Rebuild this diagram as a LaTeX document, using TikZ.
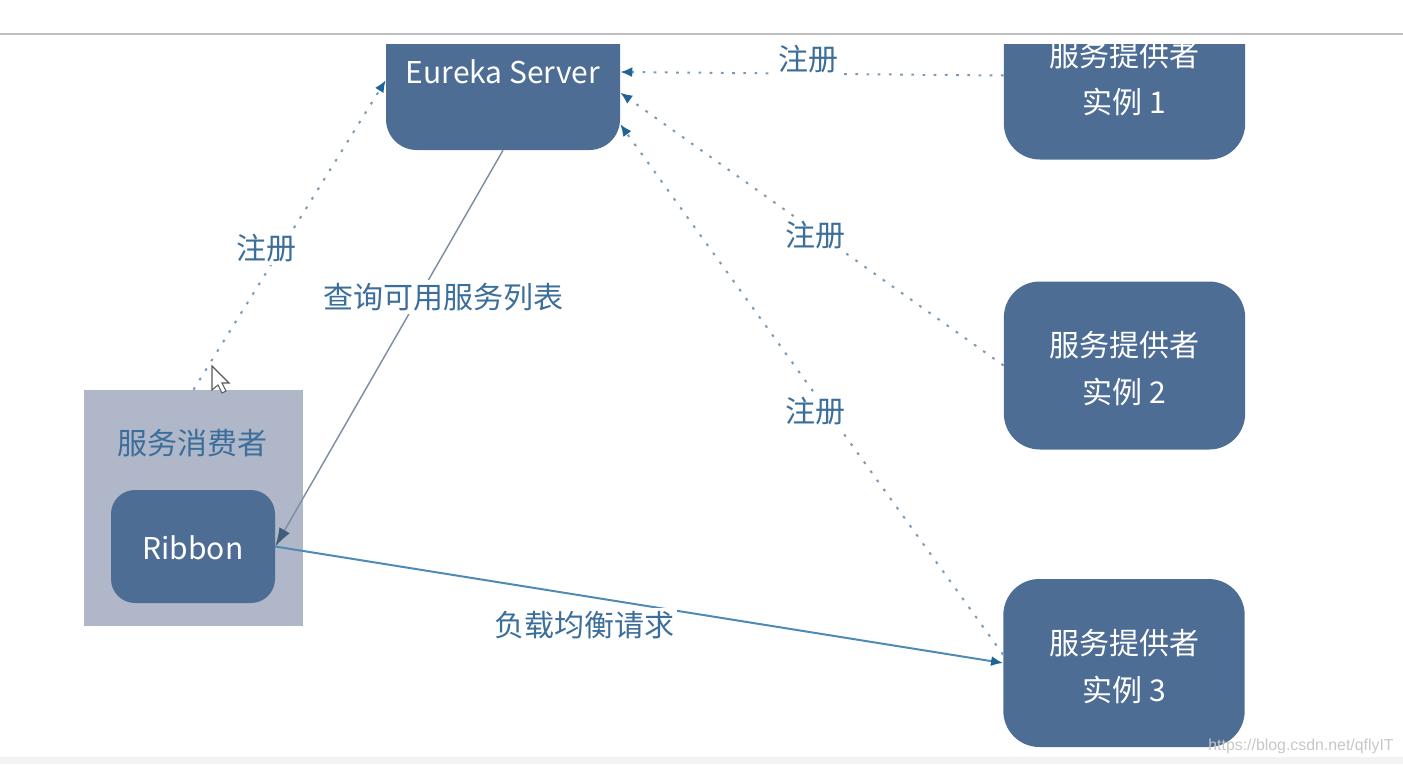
\documentclass[tikz,border=0pt]{standalone}
\usepackage{fontspec}
\setmainfont{Noto Sans CJK SC}
\usetikzlibrary{arrows.meta}
\definecolor{boxblue}{HTML}{4D6D94}
\definecolor{shellgray}{HTML}{B0B7C9}
\definecolor{labelblue}{HTML}{3B6E9A}
\definecolor{dotblue}{HTML}{7A9BB6}
\definecolor{tipblue}{HTML}{1F6397}
\definecolor{queryline}{HTML}{7E8FA3}
\definecolor{queryline2}{HTML}{3F5F78}
\definecolor{loadline}{HTML}{4F8AB5}
\newcommand{\lowstrut}{\rule{0pt}{24pt}}
\tikzset{
    bluebox/.style={fill=boxblue,text=white,inner sep=0pt,align=center,font=\fontsize{22.5}{35}\selectfont},
    providerbox/.style={bluebox,rounded corners=27pt,minimum width=181pt,minimum height=126pt},
    linelabel/.style={fill=white,inner sep=2pt,text=labelblue,font=\fontsize{22.5}{27}\selectfont},
    regline/.style={dotblue,line width=1.5pt,dash pattern={on 2pt off 6.4pt},-{Latex[length=9pt,width=7.5pt,color=tipblue]}}
}
\begin{document}
\begin{tikzpicture}[x=0.75pt,y=-0.75pt]
        \useasboundingbox (0,0) rectangle (1403,764);
        \draw (503,72) node (eureka) [bluebox,rounded corners=23pt,minimum width=175.5pt,minimum height=117pt] {Eureka Server};
        \draw (1124.5,75.5) node (provider1) [providerbox] {\lowstrut 服务提供者\\实例 1};
        \draw (1124.5,365.5) node (provider2) [providerbox] {\lowstrut 服务提供者\\实例 2};
        \draw (1124,663) node (provider3) [providerbox] {\lowstrut 服务提供者\\实例 3};
        \draw (193.5,508) node (consumer) [fill=shellgray,minimum width=164.25pt,minimum height=177pt] {};
        \draw (193,546.5) node (ribbon) [bluebox,rounded corners=18pt,minimum width=123pt,minimum height=84.75pt] {\rule{0pt}{20pt}Ribbon};
        \draw (192,443) node (consumername) [text=labelblue,font=\fontsize{22.5}{27}\selectfont] {服务消费者};
        \draw [regline] (consumer.north) -- (eureka.184);
        \draw [regline] (provider1.west) -- (eureka.east);
        \draw [regline] (provider2.west) -- (eureka.-10.6);
        \draw [regline] (provider3.176) -- (eureka.-24.4);
        \draw [queryline,line width=1.1pt,-{Latex[length=14pt,width=9pt,color=queryline2]}] (eureka.south) -- (ribbon.east);
        \draw [loadline,line width=1.5pt,-{Latex[length=9pt,width=7.5pt,color=tipblue]}] (ribbon.east) -- (provider3.west);
        \draw (266,248) node (reglabel0) [linelabel] {注册};
        \draw (808,59) node (reglabel1) [linelabel] {注册};
        \draw (815,235) node (reglabel2) [linelabel] {注册};
        \draw (815,411) node (reglabel3) [linelabel] {注册};
        \draw (443,297) node (querylabel) [linelabel] {查询可用服务列表};
        \draw (584,625) node (loadlabel) [linelabel] {负载均衡请求};
        \fill [white] (0,0) rectangle (1403,44);
        \draw [color=black!25,line width=1pt] (0,34) -- (1403,34);
        \fill [black!5] (0,757) rectangle (1403,764);
        \draw [fill=white,draw=black!65,line width=0.8pt] (212,366) -- (212,390) -- (218,385) -- (222,393) -- (226,391) -- (222,383) -- (229,383) -- cycle;
        \draw (1301,746) node (watermark) [text=black!22,font=\fontspec{Liberation Sans}\fontsize{11.9}{15}\selectfont] {https://blog.csdn.net/qflyIT};
\end{tikzpicture}
\end{document}
